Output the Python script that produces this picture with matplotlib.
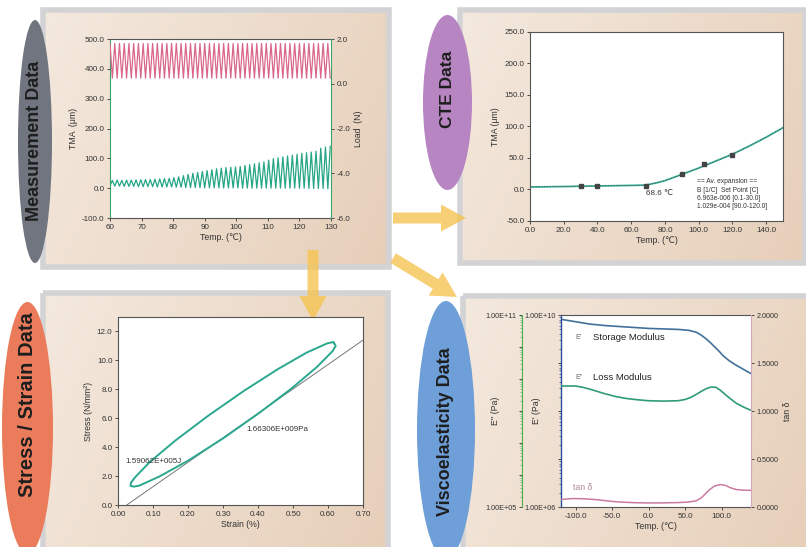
import numpy as np
import matplotlib
matplotlib.use('Agg')
import matplotlib.pyplot as plt
from matplotlib.patches import Ellipse, Rectangle, FancyArrow
from matplotlib.ticker import (FixedLocator, FixedFormatter, FormatStrFormatter,
                               LogLocator, NullFormatter, MultipleLocator)
from matplotlib.colors import LinearSegmentedColormap

plt.rcParams['font.family'] = ['Liberation Sans', 'DejaVu Sans']

# ---------------- data ----------------
# Panel 1: measurement data (extrema of the oscillating signals)
meas_temp_lo = [60.0, 61.5, 63.0, 64.5, 66.0, 67.5, 69.0, 70.5, 72.0, 73.5, 75.0, 76.5,
                78.0, 79.5, 81.0, 82.5, 84.0, 85.5, 87.0, 88.5, 90.0, 91.5, 93.0, 94.5,
                96.0, 97.5, 99.0, 100.5, 102.0, 103.5, 105.0, 106.5, 108.0, 109.5, 111.0,
                112.5, 114.0, 115.5, 117.0, 118.5, 120.0, 121.5, 123.0, 124.5, 126.0,
                127.5, 129.0]
meas_temp_hi = [60.75, 62.25, 63.75, 65.25, 66.75, 68.25, 69.75, 71.25, 72.75, 74.25,
                75.75, 77.25, 78.75, 80.25, 81.75, 83.25, 84.75, 86.25, 87.75, 89.25,
                90.75, 92.25, 93.75, 95.25, 96.75, 98.25, 99.75, 101.25, 102.75, 104.25,
                105.75, 107.25, 108.75, 110.25, 111.75, 113.25, 114.75, 116.25, 117.75,
                119.25, 120.75, 122.25, 123.75, 125.25, 126.75, 128.25, 129.75]
tma_trough = [8, 7, 7, 6, 6, 6, 5, 5, 5, 5, 4, 4, 4, 4,
              3, 3, 2, 2, 2, 2, 1, 1, 1, 1, 1, 1, 1, 1, 0, 0, 0, 0, 0, 0,
              0, 0, 0, 0, 0, 0, 0, 0, -1, -1, -1, -1, -2]
tma_peak = [26, 27, 26, 27, 27, 28, 28, 29, 29, 30, 31, 32, 33, 35, 38, 42, 46, 50,
            53, 56, 59, 62, 65, 67, 69, 70, 71, 73, 76, 79, 82, 85, 88, 94, 99, 102,
            105, 108, 111, 114, 117, 119, 121, 124, 134, 138, 140]
load_high = 1.80
load_low = 0.25

# Panel 2: CTE data
cte_temp = [0, 10, 20, 30, 40, 50, 60, 68.6, 75, 80, 90, 100, 110, 120, 130, 140, 150]
cte_tma = [4.0, 4.3, 4.7, 5.2, 5.6, 6.0, 6.5, 7.0, 10.5, 14.0, 24.0, 34.0, 45.0, 56.0,
           69.0, 83.0, 98.0]
cte_mark_temp = [30, 40, 68.6, 90, 103, 120]
cte_mark_tma = [4.8, 5.2, 6.3, 25.0, 40.5, 55.0]
cte_notes = ['== Av. expansion ==', 'B [1/C]  Set Point [C]',
             '6.963e-006 [0.1-30.0]', '1.029e-004 [90.0-120.0]']

# Panel 3: stress / strain loop
loop_strain = [0.617, 0.622, 0.613, 0.569, 0.495, 0.402, 0.301, 0.202, 0.119, 0.061,
               0.045, 0.036, 0.037, 0.047, 0.091, 0.164, 0.257, 0.359, 0.457, 0.540,
               0.598, 0.615, 0.617]
loop_stress = [11.20, 11.00, 10.64, 9.56, 8.04, 6.34, 4.62, 3.09, 1.98, 1.34,
               1.27, 1.32, 1.53, 1.87, 2.98, 4.46, 6.16, 7.88, 9.40, 10.55,
               11.18, 11.27, 11.20]
fit_strain = [0.025, 0.70]
fit_stress = [0.0, 11.4]

# Panel 4: viscoelasticity
stor_temp = [-120, -100, -80, -60, -40, -20, 0, 20, 40, 55, 65, 72, 78, 84, 90, 96,
             102, 110, 118, 126, 134, 140]
stor_mod = [8.13e9, 7.24e9, 6.46e9, 6.03e9, 5.75e9, 5.50e9, 5.25e9, 5.13e9, 5.01e9,
            4.79e9, 4.37e9, 3.80e9, 3.24e9, 2.69e9, 2.19e9, 1.78e9, 1.41e9, 1.12e9,
            9.33e8, 7.94e8, 6.76e8, 6.03e8]
loss_temp = [-120, -100, -90, -80, -70, -60, -45, -30, -15, 0, 20, 40, 50, 58, 66, 74,
             80, 86, 92, 98, 105, 112, 120, 130, 140]
loss_mod = [6.03e8, 6.03e8, 5.50e8, 4.79e8, 4.07e8, 3.47e8, 2.82e8, 2.45e8, 2.24e8,
            2.09e8, 2.04e8, 2.09e8, 2.29e8, 2.69e8, 3.39e8, 4.37e8, 5.13e8, 5.62e8,
            5.50e8, 4.47e8, 3.24e8, 2.40e8, 1.74e8, 1.32e8, 1.05e8]
tan_temp = [-120, -105, -90, -72, -55, -40, -20, 0, 20, 40, 55, 65, 72, 78, 84, 90, 98,
            105, 112, 120, 130, 140]
tan_delta = [0.078, 0.088, 0.086, 0.077, 0.062, 0.052, 0.045, 0.042, 0.043, 0.046,
             0.052, 0.065, 0.095, 0.140, 0.185, 0.218, 0.234, 0.225, 0.200, 0.182,
             0.175, 0.174]

# ---------------- figure ----------------
W, H = 806, 547
fig = plt.figure(figsize=(W / 100, H / 100), dpi=100)
fig.patch.set_facecolor('white')


def rect(x0, y0, x1, y1):
    return [x0 / W, 1 - y1 / H, (x1 - x0) / W, (y1 - y0) / H]


TICK_FS = 5.8
LAB_FS = 6.3
TXT = '#333333'
SPINE = '#555555'

# background layer
bg = fig.add_axes([0, 0, 1, 1], zorder=0)
bg.axis('off')
cmap = LinearSegmentedColormap.from_list('beige', ['#f4e9de', '#e6cfb9'])
gx = np.linspace(0, 1, 200)
gy = np.linspace(0, 1, 120)
grad = np.add.outer(gy * 0.35, gx) / 1.35
frames = [(43, 10, 389, 267), (460, 10, 805, 263), (43, 293, 388, 556), (463, 296, 812, 556)]
for (x0, y0, x1, y1) in frames:
    bg.imshow(grad, extent=(x0, x1, y1, y0), cmap=cmap, aspect='auto', zorder=1,
              interpolation='bilinear')
    bg.add_patch(Rectangle((x0, y0), x1 - x0, y1 - y0, fill=False, ec='#d3d3d6',
                           lw=4, zorder=2))

ovals = [((35, 141.5), 34, 243, '#70757f', 'Measurement Data', 13, (35, 141)),
         ((447.5, 102.5), 49, 175, '#b885c3', 'CTE Data', 12.5, (447, 89)),
         ((27.5, 428), 51, 252, '#ea7c5c', 'Stress / Strain Data', 14.5, (28, 405)),
         ((446, 430), 58, 258, '#6f9fd8', 'Viscoelasticity Data', 13, (446, 432))]
for (c, w, h, col, label, fs, tpos) in ovals:
    bg.add_patch(Ellipse(c, w, h, fc=col, ec='none', zorder=3))
    bg.text(tpos[0], tpos[1], label, rotation=90, ha='center', va='center',
            fontsize=fs, fontweight='bold', color='#1e1e1e', zorder=5)

for (x, y, dx, dy) in [(393, 218, 73, 0), (393, 258, 64, 39), (313, 250, 0, 71)]:
    bg.add_patch(FancyArrow(x, y, dx, dy, width=11, head_width=27, head_length=25,
                            length_includes_head=True, color='#f6c452', alpha=0.8,
                            lw=0, zorder=4))
bg.set_xlim(0, W)
bg.set_ylim(H, 0)


def style(ax):
    ax.tick_params(labelsize=TICK_FS, colors=TXT, length=2.5, width=0.6, pad=1.5)
    for s in ax.spines.values():
        s.set_linewidth(0.8)
        s.set_color(SPINE)


# ---------------- panel 1 ----------------
ax1 = fig.add_axes(rect(110, 39, 331, 218), zorder=3)
x_ext = np.column_stack([meas_temp_lo, meas_temp_hi]).ravel()
tma_ext = np.column_stack([tma_trough, tma_peak]).ravel()
load_ext = np.column_stack([[load_high] * len(meas_temp_lo),
                            [load_low] * len(meas_temp_hi)]).ravel()
ax1.plot(x_ext, tma_ext, color='#25a585', lw=0.9)
ax1.set_xlim(60, 130)
ax1.set_ylim(-100, 500)
ax1.xaxis.set_major_locator(MultipleLocator(10))
ax1.yaxis.set_major_locator(MultipleLocator(100))
ax1.yaxis.set_major_formatter(FormatStrFormatter('%.1f'))
style(ax1)
ax1.spines['left'].set_color('#3aa56b')
ax1.spines['right'].set_visible(False)
ax1.set_ylabel('TMA  (μm)', fontsize=LAB_FS, color=TXT, labelpad=3)
ax1.set_xlabel('Temp. (℃)', fontsize=LAB_FS, color=TXT, labelpad=2)
ax1r = ax1.twinx()
ax1r.plot(x_ext, load_ext, color='#d9678a', lw=0.9)
ax1r.set_ylim(-6, 2)
ax1r.yaxis.set_major_locator(MultipleLocator(2))
ax1r.yaxis.set_major_formatter(FormatStrFormatter('%.1f'))
style(ax1r)
for s in ('left', 'top', 'bottom'):
    ax1r.spines[s].set_visible(False)
ax1r.spines['right'].set_color('#3aa56b')
ax1r.set_ylabel('Load  (N)', fontsize=LAB_FS, color=TXT, labelpad=3)

# ---------------- panel 2 ----------------
ax2 = fig.add_axes(rect(530, 32, 783, 221), zorder=3)
ax2.plot(cte_temp, cte_tma, color='#3bb5a0', lw=1.3)
ax2.plot(cte_temp, cte_tma, color='#444444', lw=0.5, ls=(0, (2, 2)))
ax2.plot(cte_mark_temp, cte_mark_tma, ls='none', marker='s', ms=2.2, color='#444444')
ax2.set_xlim(0, 150)
ax2.set_ylim(-50, 250)
ax2.xaxis.set_major_locator(MultipleLocator(20))
ax2.yaxis.set_major_locator(MultipleLocator(50))
ax2.xaxis.set_major_formatter(FormatStrFormatter('%.1f'))
ax2.yaxis.set_major_formatter(FormatStrFormatter('%.1f'))
style(ax2)
ax2.set_ylabel('TMA (μm)', fontsize=LAB_FS, color=TXT, labelpad=3)
ax2.set_xlabel('Temp. (℃)', fontsize=LAB_FS, color=TXT, labelpad=2)
ax2.text(69, -7, '68.6 ℃', fontsize=5.8, color=TXT, va='center', ha='left')
for i, line in enumerate(cte_notes):
    ax2.text(99, 12 - i * 13.2, line, fontsize=4.8, color=TXT, va='center', ha='left')

# ---------------- panel 3 ----------------
ax3 = fig.add_axes(rect(118, 317, 363, 505), zorder=3)
ax3.plot(fit_strain, fit_stress, color='#777777', lw=0.7)
ax3.plot(loop_strain, loop_stress, color='#2aa88e', lw=1.4)
ax3.set_xlim(0, 0.70)
ax3.set_ylim(0, 13)
ax3.xaxis.set_major_locator(MultipleLocator(0.1))
ax3.yaxis.set_major_locator(FixedLocator([0, 2, 4, 6, 8, 10, 12]))
ax3.xaxis.set_major_formatter(FormatStrFormatter('%.2f'))
ax3.yaxis.set_major_formatter(FormatStrFormatter('%.1f'))
style(ax3)
ax3.set_ylabel('Stress (N/mm²)', fontsize=LAB_FS, color=TXT, labelpad=3)
ax3.set_xlabel('Strain (%)', fontsize=LAB_FS, color=TXT, labelpad=2)
ax3.text(0.02, 3.0, '1.59062E+005J', fontsize=5.8, color=TXT, va='center', ha='left')
ax3.text(0.368, 5.2, '1.66306E+009Pa', fontsize=5.8, color=TXT, va='center', ha='left')

# ---------------- panel 4 ----------------
ax4 = fig.add_axes(rect(561, 315, 751, 507), zorder=3)
ax4.set_yscale('log')
ax4.plot(stor_temp, stor_mod, color='#41709a', lw=1.2)
ax4.set_xlim(-120, 140)
ax4.set_ylim(1e6, 1e10)
ax4.xaxis.set_major_locator(FixedLocator([-100, -50, 0, 50, 100]))
ax4.xaxis.set_major_formatter(FormatStrFormatter('%.1f'))
ax4.yaxis.set_major_locator(FixedLocator([1e6, 1e7, 1e8, 1e9, 1e10]))
ax4.yaxis.set_major_formatter(FixedFormatter(['1.00E+06', '', '', '', '1.00E+10']))
ax4.yaxis.set_minor_locator(LogLocator(base=10, subs=np.arange(2, 10)))
ax4.yaxis.set_minor_formatter(NullFormatter())
style(ax4)
ax4.tick_params(axis='y', which='minor', length=1.6, width=0.5, colors='#2950a0')
ax4.tick_params(axis='y', which='major', labelsize=5.2)
ax4.spines['left'].set_color('#2950a0')
ax4.spines['left'].set_linewidth(1.0)
ax4.spines['right'].set_visible(False)
ax4.set_ylabel("E' (Pa)", fontsize=LAB_FS, color=TXT)
ax4.yaxis.set_label_coords(-0.105, 0.5)
ax4.set_xlabel('Temp. (℃)', fontsize=LAB_FS, color=TXT, labelpad=2)

ax4g = ax4.twinx()
ax4g.set_yscale('log')
ax4g.plot(loss_temp, loss_mod, color='#2f9c78', lw=1.2)
ax4g.set_ylim(1e5, 1e11)
ax4g.yaxis.tick_left()
ax4g.yaxis.set_label_position('left')
ax4g.yaxis.set_major_locator(FixedLocator([1e5, 1e6, 1e7, 1e8, 1e9, 1e10, 1e11]))
ax4g.yaxis.set_major_formatter(FixedFormatter(['1.00E+05', '', '', '', '', '', '1.00E+11']))
ax4g.yaxis.set_minor_locator(LogLocator(base=10, subs=np.arange(2, 10)))
ax4g.yaxis.set_minor_formatter(NullFormatter())
style(ax4g)
ax4g.tick_params(axis='y', which='minor', length=1.4, width=0.5, colors='#4caf50')
ax4g.tick_params(axis='y', which='major', labelsize=5.2)
for s in ('right', 'top', 'bottom'):
    ax4g.spines[s].set_visible(False)
ax4g.spines['left'].set_visible(True)
ax4g.spines['left'].set_position(('outward', 28))
ax4g.spines['left'].set_color('#4caf50')
ax4g.set_ylabel("E'' (Pa)", fontsize=LAB_FS, color=TXT)
ax4g.yaxis.set_label_coords(-0.32, 0.5)

ax4t = ax4.twinx()
ax4t.plot(tan_temp, tan_delta, color='#c97ba0', lw=1.1)
ax4t.set_ylim(0, 2.0)
ax4t.yaxis.set_major_locator(MultipleLocator(0.5))
ax4t.yaxis.set_major_formatter(FormatStrFormatter('%.4f'))
style(ax4t)
ax4t.tick_params(axis='y', labelsize=5.2)
for s in ('left', 'top', 'bottom'):
    ax4t.spines[s].set_visible(False)
ax4t.spines['right'].set_color('#d4a5bd')
ax4t.set_ylabel('tan δ', fontsize=LAB_FS, color=TXT, labelpad=3)

ax4.text(0.075, 0.885, "E'", transform=ax4.transAxes, fontsize=5, color='#666666',
         va='center', ha='left')
ax4.text(0.17, 0.885, 'Storage Modulus', transform=ax4.transAxes, fontsize=6.8,
         color='#222222', va='center', ha='left')
ax4.text(0.075, 0.672, "E''", transform=ax4.transAxes, fontsize=5, color='#666666',
         va='center', ha='left')
ax4.text(0.17, 0.672, 'Loss Modulus', transform=ax4.transAxes, fontsize=6.8,
         color='#222222', va='center', ha='left')
ax4.text(0.063, 0.10, 'tan δ', transform=ax4.transAxes, fontsize=6.3,
         color='#b08a9c', va='center', ha='left')

fig.savefig('out.png', dpi=100, facecolor='white')
